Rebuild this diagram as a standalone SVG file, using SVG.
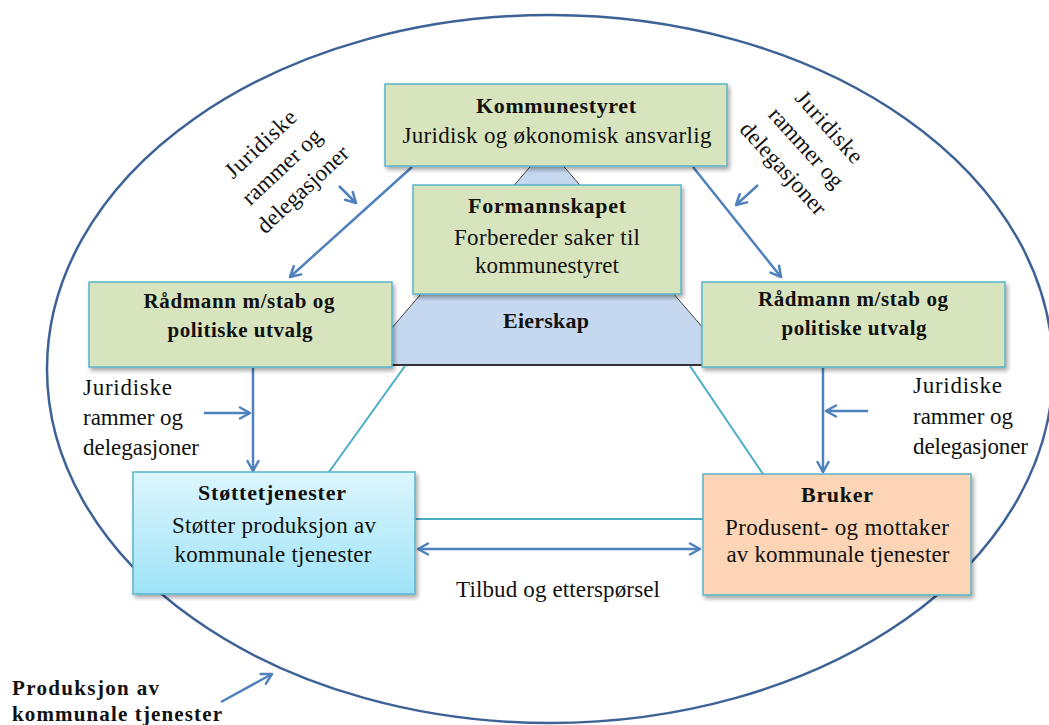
<svg xmlns="http://www.w3.org/2000/svg" width="1049" height="725" viewBox="0 0 1049 725">
  <style>
    text { font-family: "Liberation Serif", "Times New Roman", serif; fill: #111; }
    .b { font-weight: bold; }
    .t22 { font-size: 23px; }
    .bt { font-size: 22px; }
    .t20 { font-size: 21px; }
    .mid { text-anchor: middle; }
    .box { stroke: #5AB4CB; stroke-width: 1.5; }
    .green { fill: #D7E4BD; }
    .flow { stroke: #4F81BD; stroke-width: 2.5; fill: none; }
    .tri { stroke: #4BACC6; stroke-width: 2; fill: none; }
  </style>
  <defs>
    <marker id="arr" viewBox="0 0 14 14" refX="12" refY="7" markerWidth="14" markerHeight="14" markerUnits="userSpaceOnUse" orient="auto-start-reverse">
      <path d="M2,1.5 L12,7 L2,12.5" fill="none" stroke="#4F81BD" stroke-width="2.5" stroke-linecap="round" stroke-linejoin="round"/>
    </marker>
    <filter id="sh" x="-10%" y="-10%" width="125%" height="130%">
      <feDropShadow dx="2" dy="3" stdDeviation="2" flood-color="#000" flood-opacity="0.35"/>
    </filter>
    <linearGradient id="cyan" x1="0" y1="0" x2="0" y2="1">
      <stop offset="0" stop-color="#DCF6FD"/>
      <stop offset="1" stop-color="#9FE3F8"/>
    </linearGradient>
  </defs>

  <!-- outer boundary: production of municipal services -->
  <ellipse cx="550" cy="369" rx="503" ry="354" fill="none" stroke="#3D6296" stroke-width="2.5"/>

  <!-- ownership triangle -->
  <g id="eierskap">
    <polygon points="547,147 360,365 735,365" fill="#C6D8F0" stroke="#404040" stroke-width="1"/>
    <line x1="360" y1="365" x2="735" y2="365" stroke="#333" stroke-width="2"/>
    <text class="b bt mid" x="546" y="328" textLength="86" lengthAdjust="spacing">Eierskap</text>
  </g>

  <g id="connectors">
    <!-- service triangle -->
    <line class="tri" x1="405" y1="366" x2="329" y2="472"/>
    <line class="tri" x1="690" y1="366" x2="763" y2="474"/>
    <line class="tri" x1="415" y1="519" x2="703" y2="519"/>
    <!-- delegation flows -->
    <line class="flow" x1="412" y1="167" x2="290" y2="277" marker-end="url(#arr)"/>
    <line class="flow" x1="693" y1="167" x2="781" y2="277" marker-end="url(#arr)"/>
    <line class="flow" x1="253" y1="368" x2="253" y2="471" marker-end="url(#arr)"/>
    <line class="flow" x1="823" y1="368" x2="823" y2="472" marker-end="url(#arr)"/>
    <!-- inputs of legal frameworks -->
    <line class="flow" x1="339" y1="186" x2="356" y2="203" marker-end="url(#arr)"/>
    <line class="flow" x1="758" y1="185" x2="736" y2="205" marker-end="url(#arr)"/>
    <line class="flow" x1="204" y1="413" x2="250" y2="413" marker-end="url(#arr)"/>
    <line class="flow" x1="868" y1="411" x2="826" y2="411" marker-end="url(#arr)"/>
    <!-- supply and demand -->
    <line class="flow" x1="418" y1="549" x2="700" y2="549" marker-start="url(#arr)" marker-end="url(#arr)"/>
    <!-- pointer to the boundary -->
    <line class="flow" x1="221" y1="702" x2="272" y2="674" marker-end="url(#arr)"/>
  </g>

  <g id="kommunestyret">
    <rect class="box green" x="385" y="84" width="342" height="82" filter="url(#sh)"/>
    <text class="b bt mid" x="556" y="113" textLength="160" lengthAdjust="spacing">Kommunestyret</text>
    <text class="t22 mid" x="557" y="143" textLength="309" lengthAdjust="spacing">Juridisk og økonomisk ansvarlig</text>
  </g>

  <g id="formannskapet">
    <rect class="box green" x="413" y="185" width="268" height="109" filter="url(#sh)"/>
    <text class="b bt mid" x="547" y="213" textLength="158" lengthAdjust="spacing">Formannskapet</text>
    <text class="t22 mid" x="547" y="245" textLength="186" lengthAdjust="spacing">Forbereder saker til</text>
    <text class="t22 mid" x="547" y="273" textLength="144" lengthAdjust="spacing">kommunestyret</text>
  </g>

  <g id="radmann-venstre">
    <rect class="box green" x="89" y="282" width="303" height="85" filter="url(#sh)"/>
    <text class="b t20 mid" x="239" y="308" textLength="191" lengthAdjust="spacing">Rådmann m/stab og</text>
    <text class="b t20 mid" x="240" y="337" textLength="145" lengthAdjust="spacing">politiske utvalg</text>
  </g>

  <g id="radmann-hoyre">
    <rect class="box green" x="702" y="282" width="303" height="85" filter="url(#sh)"/>
    <text class="b t20 mid" x="853" y="306" textLength="190" lengthAdjust="spacing">Rådmann m/stab og</text>
    <text class="b t20 mid" x="854" y="335" textLength="145" lengthAdjust="spacing">politiske utvalg</text>
  </g>

  <g id="stottetjenester">
    <rect class="box" x="133" y="472" width="282" height="122" fill="url(#cyan)" filter="url(#sh)"/>
    <text class="b bt mid" x="272" y="500" textLength="148" lengthAdjust="spacing">Støttetjenester</text>
    <text class="t22 mid" x="274" y="533" textLength="204" lengthAdjust="spacing">Støtter produksjon av</text>
    <text class="t22 mid" x="273" y="562" textLength="197" lengthAdjust="spacing">kommunale tjenester</text>
  </g>

  <g id="bruker">
    <rect class="box" x="703" y="474" width="268" height="121" fill="#FBD5B5" filter="url(#sh)"/>
    <text class="b bt mid" x="837" y="502" textLength="72" lengthAdjust="spacing">Bruker</text>
    <text class="t22 mid" x="837" y="535" textLength="224" lengthAdjust="spacing">Produsent- og mottaker</text>
    <text class="t22 mid" x="838" y="562" textLength="223" lengthAdjust="spacing">av kommunale tjenester</text>
  </g>

  <!-- free labels -->
  <g id="label-juridiske-venstre-skra" transform="translate(282,167) rotate(-43)">
    <text class="t22 mid" x="0" y="-24" textLength="89" lengthAdjust="spacing">Juridiske</text>
    <text class="t22 mid" x="0" y="7" textLength="100" lengthAdjust="spacing">rammer og</text>
    <text class="t22 mid" x="0" y="38" textLength="117" lengthAdjust="spacing">delegasjoner</text>
  </g>
  <g id="label-juridiske-hoyre-skra" transform="translate(806,148) rotate(48)">
    <text class="t22 mid" x="0" y="-24" textLength="89" lengthAdjust="spacing">Juridiske</text>
    <text class="t22 mid" x="0" y="7" textLength="100" lengthAdjust="spacing">rammer og</text>
    <text class="t22 mid" x="0" y="38" textLength="117" lengthAdjust="spacing">delegasjoner</text>
  </g>
  <g id="label-juridiske-venstre">
    <text class="t22" x="83" y="395" textLength="89" lengthAdjust="spacing">Juridiske</text>
    <text class="t22" x="83" y="425" textLength="100" lengthAdjust="spacing">rammer og</text>
    <text class="t22" x="83" y="455" textLength="116" lengthAdjust="spacing">delegasjoner</text>
  </g>
  <g id="label-juridiske-hoyre">
    <text class="t22" x="913" y="393" textLength="89" lengthAdjust="spacing">Juridiske</text>
    <text class="t22" x="913" y="424" textLength="100" lengthAdjust="spacing">rammer og</text>
    <text class="t22" x="913" y="454" textLength="115" lengthAdjust="spacing">delegasjoner</text>
  </g>
  <g id="label-tilbud">
    <text class="t22 mid" x="558" y="597" textLength="204" lengthAdjust="spacing">Tilbud og etterspørsel</text>
  </g>
  <g id="label-produksjon">
    <text class="b t20" x="12" y="695" textLength="147" lengthAdjust="spacing">Produksjon av</text>
    <text class="b t20" x="12" y="721" textLength="210" lengthAdjust="spacing">kommunale tjenester</text>
  </g>
</svg>
